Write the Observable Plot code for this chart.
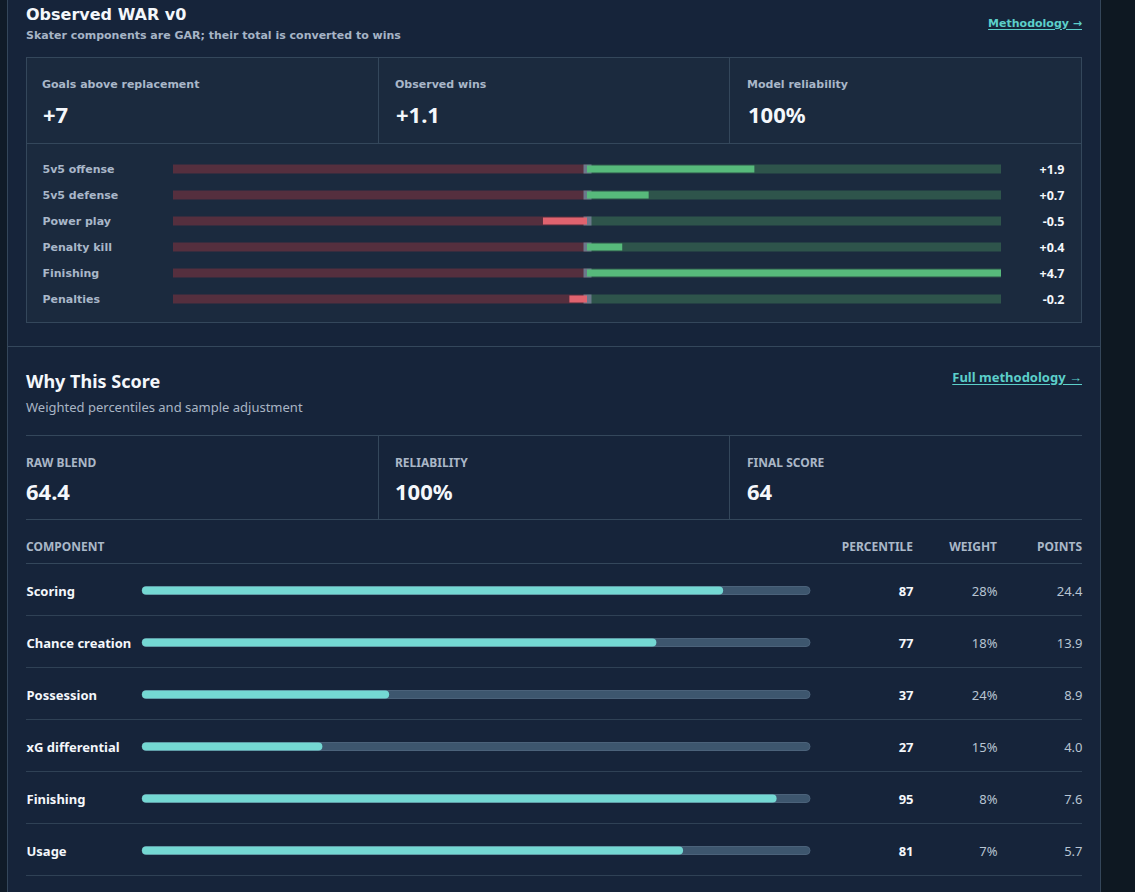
<!DOCTYPE html>
<html>
<head>
<meta charset="utf-8">
<title>Observed WAR v0</title>
<script src="https://cdn.jsdelivr.net/npm/d3@7"></script>
<script src="https://cdn.jsdelivr.net/npm/@observablehq/plot@0.6"></script>
<style>
  html, body { margin: 0; padding: 0; background: #0e1822; }
  #page { position: relative; width: 1135px; height: 892px; overflow: hidden; background: #0e1822; }
  .strip { position: absolute; left: 0; top: 0; width: 7px; height: 892px; background: #101b28; }
  .panel { position: absolute; left: 7px; top: 0; width: 1094px; height: 892px; box-sizing: border-box;
           background: #16243a; border-left: 1px solid #34465a; border-right: 1px solid #34465a; }
  .card { position: absolute; left: 26px; top: 57px; width: 1056px; height: 266px; box-sizing: border-box;
          background: #1b2a3e; border: 1px solid #34475b; }
  .hl { position: absolute; height: 1px; background: #34475b; }
  .vl { position: absolute; width: 1px; background: #34475b; }
  .t { position: absolute; white-space: nowrap; line-height: 1; margin: 0; }
  .dv { font-family: "DejaVu Sans", Verdana, sans-serif; font-weight: 700; }
  .ns { font-family: "Noto Sans", "Open Sans", sans-serif; }
  .link { color: #5ccfca; text-decoration: underline; text-underline-offset: 2px; }
  .chart { position: absolute; }
  .chart svg { display: block; overflow: visible; }
</style>
</head>
<body>
<div id="page">
  <div class="strip"></div>
  <div class="panel"></div>

  <!-- Observed WAR header -->
  <div class="t dv" style="left:26px; top:6.5px; font-size:16px; color:#f4f7fb;">Observed WAR v0</div>
  <div class="t dv" style="left:26px; top:30.2px; font-size:11px; color:#a6b4c6;">Skater components are GAR; their total is converted to wins</div>
  <div class="t dv link" style="right:53px; top:17.7px; font-size:11px;">Methodology →</div>

  <!-- Observed WAR card -->
  <div class="card"></div>
  <div class="vl" style="left:378px; top:57px; height:86px;"></div>
  <div class="vl" style="left:729px; top:57px; height:86px;"></div>
  <div class="hl" style="left:26px; top:143px; width:1056px;"></div>
  <div id="war-stats"></div>
  <div id="war-chart" class="chart" style="left:27px; top:144px;"></div>

  <!-- Why This Score -->
  <div class="hl" style="left:8px; top:346px; width:1092px;"></div>
  <div class="t ns" style="left:26px; top:372px; font-size:18px; font-weight:700; color:#f4f7fb;">Why This Score</div>
  <div class="t ns" style="left:26px; top:400.5px; font-size:13px; color:#a9b5c4;">Weighted percentiles and sample adjustment</div>
  <div class="t ns link" style="right:53px; top:370.5px; font-size:13px; font-weight:700;">Full methodology →</div>

  <div class="hl" style="left:26px; top:435px; width:1056px;"></div>
  <div class="hl" style="left:26px; top:519px; width:1056px;"></div>
  <div class="vl" style="left:378px; top:435px; height:84px;"></div>
  <div class="vl" style="left:729px; top:435px; height:84px;"></div>
  <div id="score-stats"></div>

  <div id="table-head"></div>
  <div class="hl" style="left:26px; top:563px; width:1056px;"></div>
  <div id="score-chart" class="chart" style="left:26px; top:563px;"></div>
</div>

<script>
// ---- data ----
const warStatLabels = ["Goals above replacement", "Observed wins", "Model reliability"];
const warStatValues = ["+7", "+1.1", "100%"];

const warLabels = ["5v5 offense", "5v5 defense", "Power play", "Penalty kill", "Finishing", "Penalties"];
const warValues = [1.9, 0.7, -0.5, 0.4, 4.7, -0.2];

const scoreStatLabels = ["RAW BLEND", "RELIABILITY", "FINAL SCORE"];
const scoreStatValues = ["64.4", "100%", "64"];

const tableColumns = ["COMPONENT", "PERCENTILE", "WEIGHT", "POINTS"];
const components = ["Scoring", "Chance creation", "Possession", "xG differential", "Finishing", "Usage"];
const percentiles = [87, 77, 37, 27, 95, 81];
const weights = [28, 18, 24, 15, 8, 7];
const points = [24.4, 13.9, 8.9, 4.0, 7.6, 5.7];

// ---- fonts / colours ----
const DV = '"DejaVu Sans", Verdana, sans-serif';
const NS = '"Noto Sans", "Open Sans", sans-serif';
const WHITE = "#f4f7fb";
const MUTED = "#a9b7c9";

const page = document.getElementById("page");

// place a text element by its baseline
function put(text, {x, base, size, cls, weight = 700, color = WHITE, end = false}) {
  const el = document.createElement("div");
  el.className = "t " + cls;
  el.textContent = text;
  const k = cls === "dv" ? 0.846 : 0.888;
  el.style.top = (base - k * size) + "px";
  if (end) el.style.right = (1135 - x) + "px"; else el.style.left = x + "px";
  el.style.fontSize = size + "px";
  el.style.fontWeight = weight;
  el.style.color = color;
  page.appendChild(el);
}

const statX = [42, 395, 747];
warStatLabels.forEach((s, i) => put(s, {x: statX[i], base: 88, size: 11, cls: "dv", color: MUTED}));
warStatValues.forEach((s, i) => put(s, {x: statX[i] + 1, base: 123, size: 22, cls: "ns"}));

const scoreX = [26, 395, 747];
scoreStatLabels.forEach((s, i) => put(s, {x: scoreX[i], base: 468, size: 12, cls: "ns", color: "#aab7c7"}));
scoreStatValues.forEach((s, i) => put(s, {x: scoreX[i], base: 499.5, size: 22, cls: "ns"}));

const headX = [26, 913, 997, 1082];
tableColumns.forEach((s, i) => put(s, {x: headX[i], base: 551.5, size: 12, cls: "ns", color: "#aab8c8", end: i > 0}));

// ---- WAR components: diverging bars around zero ----
const warRows = warLabels.map((label, i) => ({label, value: warValues[i]}));
const warMax = d3.max(warValues, v => Math.abs(v));
const fmtSigned = v => (v > 0 ? "+" : "") + v.toFixed(1);

const warChart = Plot.plot({
  width: 1054,
  height: 179,
  margin: 0,
  style: {background: "transparent", fontFamily: NS},
  x: {domain: [-warMax, warMax], range: [146, 974], axis: null},
  y: {domain: warLabels, range: [12, 168], padding: 0, axis: null},
  marks: [
    Plot.barX(warRows, {y: "label", x1: () => -warMax, x2: () => 0, fill: "#552f3e", insetTop: 8.5, insetBottom: 8.5}),
    Plot.barX(warRows, {y: "label", x1: () => 0, x2: () => warMax, fill: "#2e544b", insetTop: 8.5, insetBottom: 8.5}),
    Plot.tickX(warRows, {x: () => 0, y: "label", stroke: "#6b788b", strokeWidth: 8, insetTop: 8.5, insetBottom: 8.5}),
    Plot.barX(warRows, {
      y: "label", x1: () => 0, x2: "value",
      fill: d => d.value >= 0 ? "#57ba7b" : "#e0636f",
      insetTop: 9.5, insetBottom: 9.5
    }),
    Plot.text(warRows, {
      y: "label", text: "label", frameAnchor: "left", dx: 15, textAnchor: "start",
      fill: MUTED, fontFamily: DV, fontWeight: "bold", fontSize: 11
    }),
    Plot.text(warRows, {
      y: "label", text: d => fmtSigned(d.value), frameAnchor: "right", dx: -17, textAnchor: "end",
      fill: WHITE, fontFamily: NS, fontWeight: "bold", fontSize: 12.5
    })
  ]
});
document.getElementById("war-chart").appendChild(warChart);

// ---- score components: percentile bars with weight and points ----
const rows = components.map((name, i) => ({name, pct: percentiles[i], weight: weights[i], pts: points[i]}));

const scoreChart = Plot.plot({
  width: 1056,
  height: 314,
  margin: 0,
  style: {background: "transparent", fontFamily: NS},
  x: {domain: [0, 100], range: [116, 784], axis: null},
  y: {domain: components, range: [0, 312], padding: 0, axis: null},
  marks: [
    Plot.ruleY(rows, {y: "name", dy: 26, stroke: "#2f4155"}),
    Plot.barX(rows, {y: "name", x1: () => 0, x2: () => 100, fill: "#3d566e", stroke: "#4b627a", rx: 4, insetTop: 23.5, insetBottom: 20.5}),
    Plot.barX(rows, {y: "name", x1: () => 0, x2: "pct", fill: "#74d8d3", rx: 4, insetTop: 23.5, insetBottom: 20.5}),
    Plot.text(rows, {
      y: "name", text: "name", frameAnchor: "left", textAnchor: "start", dy: 2,
      fill: WHITE, fontWeight: "bold", fontSize: 13
    }),
    Plot.text(rows, {
      y: "name", text: d => String(d.pct), frameAnchor: "right", dx: -169, textAnchor: "end", dy: 2,
      fill: WHITE, fontWeight: "bold", fontSize: 13
    }),
    Plot.text(rows, {
      y: "name", text: d => d.weight + "%", frameAnchor: "right", dx: -85, textAnchor: "end", dy: 2,
      fill: "#b8c5d3", fontSize: 13
    }),
    Plot.text(rows, {
      y: "name", text: d => d.pts.toFixed(1), frameAnchor: "right", dx: 0, textAnchor: "end", dy: 2,
      fill: "#b8c5d3", fontSize: 13
    })
  ]
});
document.getElementById("score-chart").appendChild(scoreChart);
</script>
</body>
</html>
